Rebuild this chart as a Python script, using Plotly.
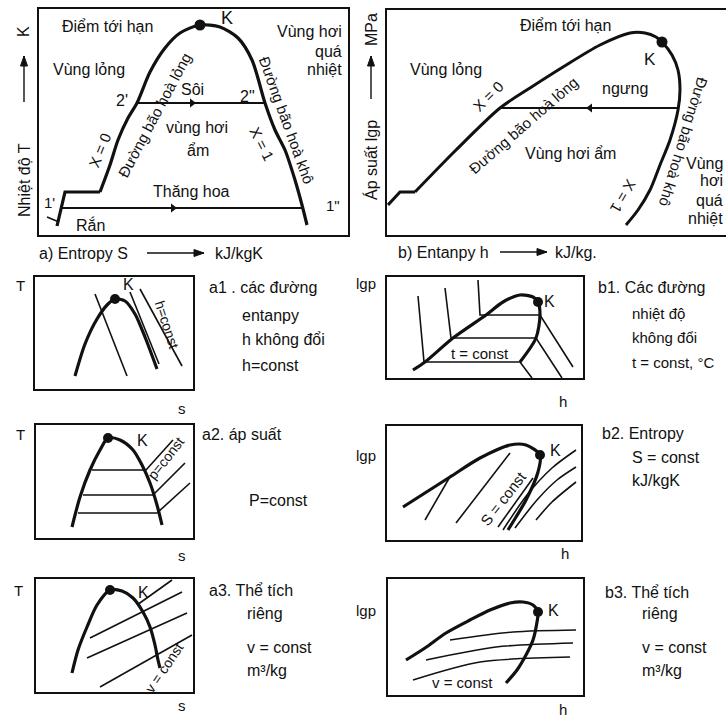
import plotly.graph_objects as go

W, H = 726, 718
FONT = "Liberation Sans Narrow, Arial Narrow, Liberation Sans, Arial, sans-serif"
INK = "#111111"

# ---------------- data (local diagram units inside each frame) ----------------
# Main a) T-s diagram
TS_STEP_S = [18, 26, 61]
TS_STEP_T = [9, 43, 43]
TS_DOME_S = [61, 71, 79, 89, 98, 111, 126, 141, 161, 181, 199, 213, 226, 236, 246, 256, 263, 268]
TS_DOME_T = [43, 70, 95, 117, 132, 163, 187, 202, 210, 208, 197, 175, 132, 105, 85, 55, 30, 10]
TS_BOIL_S = [98, 226]
TS_BOIL_T = [132, 132]
TS_SUB_S = [22, 264]
TS_SUB_T = [27, 27]
TS_SOLID_S = [8, 20]
TS_SOLID_T = [18, 13]
TS_ARROW_S = [153, 134]
TS_ARROW_T = [132, 27]
TS_K = (161, 210)

# Main b) lgp-h diagram
LP_STEP_H = [1, 13, 28]
LP_STEP_P = [30, 43, 43]
LP_DOME_H = [28, 69, 113, 143, 176, 213, 243, 258, 269, 275, 285, 291, 293, 291, 283, 273, 263, 251, 239]
LP_DOME_P = [43, 85, 127, 147, 168, 190, 202, 202, 198, 193, 180, 165, 145, 125, 95, 70, 45, 25, 10]
LP_COND_H = [113, 291]
LP_COND_P = [127, 127]
LP_ARROW = (203, 127)
LP_K = (275, 193)

# a1: h = const on T-s
A1_DOME_S = [40, 50, 62, 73, 80, 90, 100, 110, 122]
A1_DOME_T = [13, 45, 70, 85, 90, 88, 75, 52, 20]
A1_H_LINES = [([60, 92], [95, 13]), ([95, 124], [97, 25]), ([105, 147], [100, 23])]
A1_K = (80, 90)

# b1: t = const on lgp-h
B1_DOME_H = [26, 38, 66, 99, 116, 133, 146, 151, 153, 149, 133]
B1_DOME_P = [8, 16, 40, 63, 76, 83, 81, 76, 63, 40, 16]
B1_T_LINES = [([31, 37, 133, 145], [82, 16, 16, 0]),
              ([58, 64, 149, 175], [90, 40, 40, 0]),
              ([91, 93, 153, 186], [98, 63, 63, 11])]
B1_K = (151, 76)

# a2: p = const on T-s
A2_DOME_S = [36, 44, 54, 64, 72, 84, 97, 106, 114, 121, 126]
A2_DOME_T = [11, 41, 68, 88, 100, 98, 88, 73, 55, 33, 13]
A2_P_LINES = [([56, 110, 137], [68, 68, 98]),
              ([47, 117, 149], [43, 43, 75]),
              ([42, 121, 154], [25, 25, 55])]
A2_K = (72, 100)

# b2: S = const on lgp-h
B2_DOME_H = [16, 63, 93, 123, 139, 153, 151, 139, 129, 121]
B2_DOME_P = [33, 63, 82, 95, 95, 85, 68, 40, 23, 10]
B2_S_LINES = [([38, 64], [20, 65]), ([69, 123], [17, 87]), ([111, 146], [13, 62])]
B2_V_LINES = [([116, 140, 165, 189], [10, 45, 72, 90]),
              ([128, 150, 170, 189], [12, 40, 60, 73]),
              ([149, 165, 189], [20, 38, 58])]
B2_K = (153, 85)

# a3: v = const on T-s
A3_DOME_S = [36, 42, 51, 61, 74, 86, 97, 107, 114, 119, 122, 124]
A3_DOME_T = [19, 42, 65, 87, 102, 101, 94, 80, 65, 47, 32, 24]
A3_V_LINES = [([54, 146], [54, 100]), ([51, 151], [34, 79]), ([64, 156], [5, 57]), ([101, 136], [87, 112])]
A3_K = (74, 102)

# b3: v = const on lgp-h
B3_DOME_H = [18, 37, 58, 82, 102, 122, 135, 145, 150, 149, 145, 138, 129, 118]
B3_DOME_P = [35, 47, 62, 75, 85, 92, 93, 90, 83, 73, 55, 40, 25, 12]
B3_V_LINES = [([62, 125, 188], [55, 63, 65]), ([38, 108, 185], [35, 48, 52]), ([25, 92, 182], [15, 33, 38])]
B3_K = (150, 83)

# ---------------- layout of frames (pixel boxes: left, top, right, bottom) ----------------
PANELS = {
    "A": (39, 9, 348, 235, 1.6, True),
    "B": (387, 10, 726, 235, 1.6, False),
    "a1": (35, 277, 193, 389, 2.4, True),
    "b1": (387, 277, 583, 378, 2.4, True),
    "a2": (36, 425, 193, 538, 2.4, True),
    "b2": (387, 426, 581, 540, 2.4, True),
    "a3": (36, 579, 193, 692, 2.4, True),
    "b3": (388, 579, 583, 695, 2.4, True),
}

fig = go.Figure()
axis_of = {}
layout_axes = {}
for i, (name, (l, t, r, b, lw, mir)) in enumerate(PANELS.items(), start=1):
    sx = "" if i == 1 else str(i)
    axis_of[name] = ("x" + sx, "y" + sx)
    common = dict(showgrid=False, zeroline=False, showticklabels=False, ticks="",
                  showline=True, linecolor=INK, linewidth=lw, fixedrange=True)
    layout_axes["xaxis" + sx] = dict(common, domain=[l / W, min(r / W, 1.0)], range=[0, r - l],
                                     anchor="y" + sx, mirror=True)
    layout_axes["yaxis" + sx] = dict(common, domain=[1 - b / H, 1 - t / H], range=[0, b - t],
                                     anchor="x" + sx, mirror=mir)


def line(panel, xs, ys, w=3.0, spline=False):
    xa, ya = axis_of[panel]
    fig.add_trace(go.Scatter(x=xs, y=ys, xaxis=xa, yaxis=ya, mode="lines",
                             line=dict(color=INK, width=w, shape="spline" if spline else "linear",
                                       smoothing=0.8),
                             hoverinfo="skip", showlegend=False))


def dots(panel, xs, ys, symbol="circle", size=10):
    xa, ya = axis_of[panel]
    fig.add_trace(go.Scatter(x=xs, y=ys, xaxis=xa, yaxis=ya, mode="markers",
                             marker=dict(color=INK, size=size, symbol=symbol),
                             hoverinfo="skip", showlegend=False, cliponaxis=False))


# Main A
line("A", TS_STEP_S, TS_STEP_T, 3.2)
line("A", TS_DOME_S, TS_DOME_T, 3.2, spline=True)
line("A", TS_BOIL_S, TS_BOIL_T, 1.8)
line("A", TS_SUB_S, TS_SUB_T, 1.8)
line("A", TS_SOLID_S, TS_SOLID_T, 1.5)
dots("A", TS_ARROW_S, TS_ARROW_T, "triangle-right", 8)
dots("A", [TS_K[0]], [TS_K[1]], "circle", 11)

# Main B
line("B", LP_STEP_H, LP_STEP_P, 3.0)
line("B", LP_DOME_H, LP_DOME_P, 3.0, spline=True)
line("B", LP_COND_H, LP_COND_P, 1.8)
dots("B", [LP_ARROW[0]], [LP_ARROW[1]], "triangle-left", 8)
dots("B", [LP_K[0]], [LP_K[1]], "circle", 11)

# small panels
line("a1", A1_DOME_S, A1_DOME_T, 3.2, spline=True)
for xs, ys in A1_H_LINES:
    line("a1", xs, ys, 1.6, spline=True)
dots("a1", [A1_K[0]], [A1_K[1]], "circle", 10)

line("b1", B1_DOME_H, B1_DOME_P, 3.2, spline=True)
for xs, ys in B1_T_LINES:
    line("b1", xs, ys, 1.6)
dots("b1", [B1_K[0]], [B1_K[1]], "circle", 10)

line("a2", A2_DOME_S, A2_DOME_T, 3.2, spline=True)
for xs, ys in A2_P_LINES:
    line("a2", xs, ys, 1.6)
dots("a2", [A2_K[0]], [A2_K[1]], "circle", 10)

line("b2", B2_DOME_H, B2_DOME_P, 3.2, spline=True)
for xs, ys in B2_S_LINES:
    line("b2", xs, ys, 1.6)
for xs, ys in B2_V_LINES:
    line("b2", xs, ys, 1.6, spline=True)
dots("b2", [B2_K[0]], [B2_K[1]], "circle", 10)

line("a3", A3_DOME_S, A3_DOME_T, 3.2, spline=True)
for xs, ys in A3_V_LINES:
    line("a3", xs, ys, 1.6)
dots("a3", [A3_K[0]], [A3_K[1]], "circle", 10)

line("b3", B3_DOME_H, B3_DOME_P, 3.2, spline=True)
for xs, ys in B3_V_LINES:
    line("b3", xs, ys, 1.6, spline=True)
dots("b3", [B3_K[0]], [B3_K[1]], "circle", 10)

# ---------------- text ----------------
anns = []
shapes = []


def txt(text, x, y, size=15, angle=0, xanchor="center"):
    anns.append(dict(text=text, x=x / W, y=1 - y / H, xref="paper", yref="paper",
                     showarrow=False, textangle=angle, xanchor=xanchor, yanchor="middle",
                     font=dict(family=FONT, size=size, color=INK)))


def px(x, y):
    return x / W, 1 - y / H


def arrow(x0, y0, x1, y1):
    """axis-direction arrow drawn with shapes (horizontal right or vertical up)."""
    a0, b0 = px(x0, y0)
    a1, b1 = px(x1, y1)
    shapes.append(dict(type="line", xref="paper", yref="paper", x0=a0, y0=b0, x1=a1, y1=b1,
                       line=dict(color=INK, width=1.4)))
    if y0 == y1:  # pointing right
        pts = [px(x1, y1), px(x1 - 10, y1 - 3.5), px(x1 - 10, y1 + 3.5)]
    else:  # pointing up
        pts = [px(x1, y1), px(x1 - 3.5, y1 + 10), px(x1 + 3.5, y1 + 10)]
    path = "M {} {} L {} {} L {} {} Z".format(pts[0][0], pts[0][1], pts[1][0], pts[1][1],
                                              pts[2][0], pts[2][1])
    shapes.append(dict(type="path", xref="paper", yref="paper", path=path,
                       fillcolor=INK, line=dict(color=INK, width=1)))


# Main A texts
txt("Điểm tới hạn", 107, 26, 16)
txt("K", 227, 18, 18)
txt("Vùng hơi", 344, 32, 16, xanchor="right")
txt("quá", 344, 51, 16, xanchor="right")
txt("nhiệt", 344, 70, 16, xanchor="right")
txt("Vùng lỏng", 89, 70, 16)
txt("2'", 122, 100, 16)
txt("Sôi", 192, 89, 16)
txt("2\"", 247, 97, 16)
txt("vùng hơi", 197, 127, 16)
txt("ẩm", 198, 151, 16)
txt("X = 0", 100, 151, 15, -68)
txt("Đường bão hoà lỏng", 154, 115, 15, -62)
txt("X = 1", 262, 143, 15, 63)
txt("Đường bão hoà khô", 287, 120, 15, 70)
txt("Thăng hoa", 191, 192, 16)
txt("1'", 49, 203, 15)
txt("1\"", 333, 205, 15)
txt("Rắn", 91, 225, 16)
txt("Nhiệt độ T", 24, 180, 16, -90)
arrow(24, 102, 24, 56)
txt("K", 24, 32, 16, -90)
txt("a) Entropy S", 37, 253, 16, xanchor="left")
arrow(147, 253, 204, 253)
txt("kJ/kgK", 213, 253, 16, xanchor="left")

# Main B texts
txt("Điểm tới hạn", 565, 25, 16)
txt("K", 650, 60, 17)
txt("Vùng lỏng", 446, 70, 16)
txt("X = 0", 488, 97, 15, -45)
txt("Đường bão hoà lỏng", 523, 125, 15, -41)
txt("ngưng", 625, 88, 16)
txt("Vùng hơi ẩm", 570, 153, 16)
txt("Đường bão hoà khô", 684, 142, 15, 107)
txt("X = 1", 624, 196, 15, 120)
txt("Vùng", 725, 163, 16, xanchor="right")
txt("hơi", 725, 181, 16, xanchor="right")
txt("quá", 725, 200, 16, xanchor="right")
txt("nhiệt", 725, 218, 16, xanchor="right")
txt("Áp suất lgp", 371, 160, 16, -90)
arrow(371, 99, 371, 56)
txt("MPa", 371, 30, 16, -90)
txt("b) Entanpy h", 396, 252, 16, xanchor="left")
arrow(500, 252, 547, 252)
txt("kJ/kg.", 553, 252, 16, xanchor="left")

# small panel axis letters
for (tx, ty, sx_, sy_) in [(20, 285, 182, 408), (20, 435, 182, 555), (18, 590, 182, 705)]:
    txt("T", tx, ty, 15)
    txt("s", sx_, sy_, 15)
for (lx, ly, hx, hy) in [(366, 283, 563, 401), (366, 455, 565, 553), (366, 610, 563, 709)]:
    txt("lgp", lx, ly, 15)
    txt("h", hx, hy, 15)

# K labels and in-panel texts
txt("K", 128, 284, 16)
txt("h=const", 167, 325, 14, 72)
txt("K", 549, 301, 16)
txt("t = const", 480, 353, 15)
txt("K", 142, 440, 16)
txt("p=const", 166, 458, 14, -52)
txt("K", 555, 450, 16)
txt("S = const", 503, 498, 15, -52)
txt("K", 143, 592, 16)
txt("v = const", 164, 668, 14, -56)
txt("K", 553, 610, 16)
txt("v = const", 463, 682, 15)

# side captions
txt("a1 . các đường", 207, 288, 16, xanchor="left")
txt("entanpy", 240, 315, 16, xanchor="left")
txt("h không đổi", 240, 340, 16, xanchor="left")
txt("h=const", 240, 365, 16, xanchor="left")
txt("b1. Các đường", 596, 288, 16, xanchor="left")
txt("nhiệt độ", 630, 313, 15, xanchor="left")
txt("không đổi", 630, 337, 15, xanchor="left")
txt("t = const, °C", 630, 362, 15, xanchor="left")
txt("a2. áp suất", 200, 435, 16, xanchor="left")
txt("P=const", 247, 500, 16, xanchor="left")
txt("b2. Entropy", 600, 433, 16, xanchor="left")
txt("S = const", 630, 457, 16, xanchor="left")
txt("kJ/kgK", 630, 480, 16, xanchor="left")
txt("a3. Thể tích", 207, 590, 16, xanchor="left")
txt("riêng", 245, 613, 16, xanchor="left")
txt("v = const", 245, 647, 16, xanchor="left")
txt("m³/kg", 245, 670, 16, xanchor="left")
txt("b3. Thể tích", 603, 592, 16, xanchor="left")
txt("riêng", 640, 613, 16, xanchor="left")
txt("v = const", 640, 647, 16, xanchor="left")
txt("m³/kg", 640, 670, 16, xanchor="left")

fig.update_layout(width=W, height=H, margin=dict(l=0, r=0, t=0, b=0),
                  paper_bgcolor="white", plot_bgcolor="white",
                  showlegend=False, annotations=anns, shapes=shapes, **layout_axes)
fig.write_html("out.html", config={"displayModeBar": False})
